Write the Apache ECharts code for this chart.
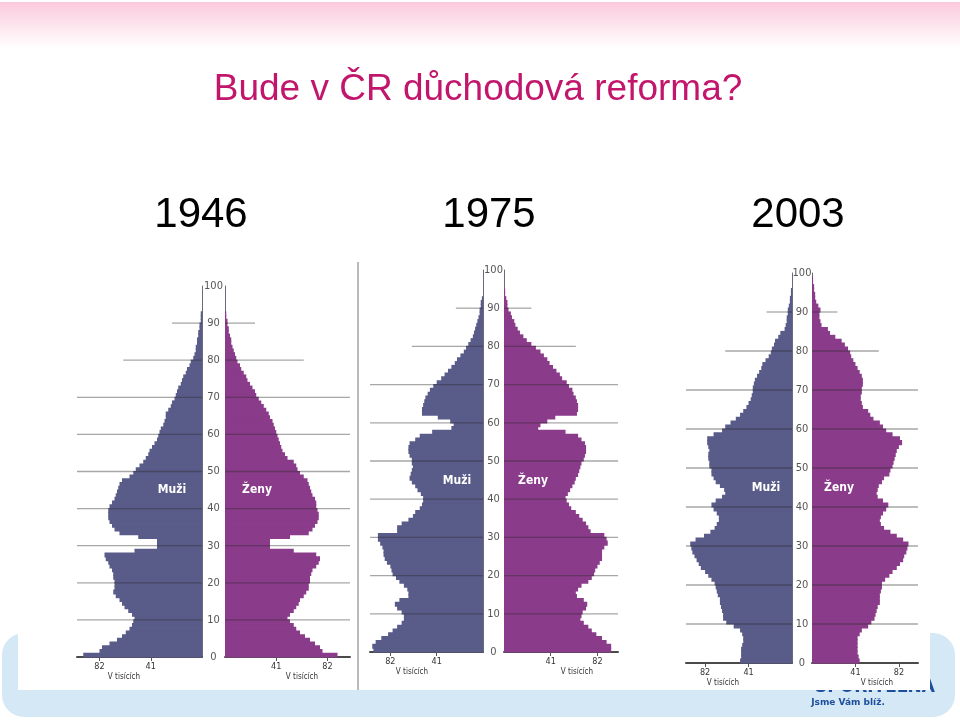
<!DOCTYPE html>
<html><head><meta charset="utf-8">
<script src="https://cdn.jsdelivr.net/npm/echarts@6/dist/echarts.min.js"></script>
<style>html,body{margin:0;padding:0;background:#fff}#c{width:960px;height:720px}</style>
</head><body><div id="c"></div>
<script>
// ---- DATA (thousands of people by single year of age, index = age) ----
const years = ['1946', '1975', '2003'];
const sexLabels = ['Muži', 'Ženy'];
const unitLabel = 'V tisících';
const titleText = 'Bude v ČR důchodová reforma?';

const male1946 = [95,82,80,74,68,64,61,58,56,55,54,56,59,62,64,66,69,71,70,70,70,71,71,72,74,75,77,78,54,36,36,36,51,66,70,72,74,75,75,75,74,72,70,69,68,67,66,64,58,55,53,50,47,45,43,42,40,38,36,35,34,33,31,30,29,29,27,25,24,22,21,20,19,17,16,15,13,12,10,9,7,6,5,5,4,4,3,3,2,2,1,1,1];
const female1946 = [90,78,76,72,68,64,60,57,55,52,50,52,55,57,59,60,63,65,67,67,68,68,69,70,73,75,76,73,55,36,36,36,52,67,70,72,74,75,75,74,73,73,72,70,69,68,67,66,63,60,58,57,55,50,48,46,45,44,43,42,41,40,39,38,36,35,33,31,29,27,25,24,22,20,18,17,15,13,12,10,9,8,7,6,5,5,4,3,3,2,2,1,1];
const male1975 = [97,98,95,90,84,80,76,72,70,70,72,76,78,74,66,66,67,70,74,77,80,81,82,85,87,88,88,89,91,93,93,76,76,72,66,62,60,56,54,53,53,55,58,60,63,65,64,63,62,63,63,65,66,66,65,60,56,45,28,26,29,40,54,54,53,52,51,49,47,44,41,37,34,31,28,25,23,20,17,15,13,11,9,8,7,6,5,4,3,3,2,2,1];
const female1975 = [94,94,90,86,81,77,74,70,67,68,69,72,73,70,64,63,65,68,74,77,79,80,82,84,86,86,86,88,91,90,88,76,74,72,69,66,63,59,57,55,54,56,58,60,62,63,65,66,67,68,70,71,72,72,71,68,65,54,30,32,38,45,64,65,65,64,63,61,60,57,55,51,49,46,43,40,38,35,32,28,24,20,17,14,12,10,9,7,6,4,3,3,2,1,1];
const male2003 = [49,48,48,48,47,46,46,47,49,55,62,65,65,66,67,68,68,70,71,72,73,76,79,82,86,88,90,92,94,95,96,91,83,77,73,71,69,69,71,74,76,72,66,63,64,68,72,74,76,76,78,78,79,79,78,79,80,80,74,66,63,58,53,49,46,43,41,39,38,37,37,36,35,33,31,29,28,25,22,20,19,17,16,13,11,7,6,5,5,4,4,3,2,2,1,1];
const female2003 = [45,44,43,43,43,43,43,45,47,53,56,59,60,61,62,64,64,64,65,66,66,69,73,76,80,83,86,87,89,90,91,86,80,74,68,65,64,65,67,70,72,67,62,61,62,63,66,68,73,74,76,77,78,79,80,82,85,83,76,70,67,64,58,55,53,48,47,46,46,47,47,48,48,47,45,43,41,39,37,36,34,31,28,22,17,15,9,8,7,7,8,6,4,3,3,2,2,1,1];

const gridAges = [10, 20, 30, 40, 50, 60, 70, 80, 90];
const gridLens = [100, 100, 100, 100, 100, 100, 100, 63, 24];
const xTickValues = [41, 82];

// ---- LAYOUT / STYLE ----
const MALE = '#595b89', FEMALE = '#8a3b8a';
const NARROW = "'Liberation Sans Narrow','DejaVu Sans Condensed',sans-serif";
const panels = [
  {m: male1946, f: female1946, top: 286, h: 371, mL: 77, mW: 125, fL: 225, fW: 125, yearX: 201, vtY: 677, vtM: 124, vtF: 302, sexY: 490, sexM: 172, sexF: 257},
  {m: male1975, f: female1975, top: 270, h: 382, mL: 370, mW: 113, fL: 504, fW: 114, yearX: 489, vtY: 672, vtM: 412, vtF: 577, sexY: 481, sexM: 457, sexF: 533},
  {m: male2003, f: female2003, top: 273, h: 390, mL: 686, mW: 106, fL: 812, fW: 106, yearX: 798, vtY: 683, vtM: 723, vtF: 877, sexY: 488, sexM: 766, sexF: 839}
];

const grids = [], xAxes = [], yAxes = [], series = [], texts = [];

function barRender(color) {
  return function (params, api) {
    const age = api.value(0), v = api.value(1);
    const p0 = api.coord([0, age]);
    const p1 = api.coord([v, age + 1]);
    // slight vertical overlap so neighbouring age bars join without seams
    return {
      type: 'rect',
      shape: {x: Math.min(p0[0], p1[0]), y: p1[1] - 0.6, width: Math.abs(p1[0] - p0[0]), height: p0[1] - p1[1] + 1.2},
      style: {fill: color}
    };
  };
}
function lineRender(params, api) {
  const age = api.value(0), len = api.value(1);
  const p0 = api.coord([0, age]);
  const p1 = api.coord([len, age]);
  return {type: 'line', shape: {x1: p0[0], y1: p0[1], x2: p1[0], y2: p1[1]},
    style: {stroke: 'rgba(45,45,45,0.42)', lineWidth: 1.3}};
}

panels.forEach((p, i) => {
  [['m', p.mL, p.mW], ['f', p.fL, p.fW]].forEach(([sex, left, width]) => {
    const gi = grids.length;
    const isM = sex === 'm';
    grids.push({left: left, top: p.top, width: width, height: p.h});
    xAxes.push({
      gridIndex: gi, type: 'value', min: 0, max: 100, inverse: isM,
      axisLine: {show: true, lineStyle: {color: '#4a4a4a', width: 2}},
      axisTick: {show: true, customValues: xTickValues, length: 4, lineStyle: {color: '#555'}},
      axisLabel: {show: true, customValues: xTickValues, margin: 5, fontSize: 9, color: '#333', fontFamily: NARROW},
      splitLine: {show: false}
    });
    yAxes.push({
      gridIndex: gi, type: 'value', min: 0, max: 100, interval: 10,
      position: isM ? 'right' : 'left',
      axisLine: {show: true, onZero: false, lineStyle: {color: '#6a6a7a', width: 1}},
      axisTick: {show: false},
      axisLabel: isM ? {show: false} : {show: true, align: 'center', margin: (p.fL - p.mL - p.mW) / 2,
        fontSize: 11, color: '#555', fontFamily: NARROW},
      splitLine: {show: false}
    });
    const vals = isM ? p.m : p.f;
    series.push({
      type: 'custom', xAxisIndex: gi, yAxisIndex: gi, z: 2, silent: true, clip: false,
      renderItem: barRender(isM ? MALE : FEMALE),
      data: vals.map((v, a) => [a, v])
    });
    series.push({
      type: 'custom', xAxisIndex: gi, yAxisIndex: gi, z: 3, silent: true,
      renderItem: lineRender,
      data: gridAges.map((a, j) => [a, gridLens[j]])
    });
  });
  texts.push({type: 'text', x: p.yearX, y: 215, z: 50,
    style: {text: years[i], fill: '#000', font: "42px 'Liberation Sans', Arial, sans-serif", align: 'center', verticalAlign: 'middle'}});
  texts.push({type: 'text', x: p.sexM, y: p.sexY, z: 50,
    style: {text: sexLabels[0], fill: '#fff', font: "bold 12px " + NARROW, align: 'center', verticalAlign: 'middle'}});
  texts.push({type: 'text', x: p.sexF, y: p.sexY, z: 50,
    style: {text: sexLabels[1], fill: '#fff', font: "bold 12px " + NARROW, align: 'center', verticalAlign: 'middle'}});
  texts.push({type: 'text', x: p.vtM, y: p.vtY, z: 50,
    style: {text: unitLabel, fill: '#333', font: "8px " + NARROW, align: 'center', verticalAlign: 'middle'}});
  texts.push({type: 'text', x: p.vtF, y: p.vtY, z: 50,
    style: {text: unitLabel, fill: '#333', font: "8px " + NARROW, align: 'center', verticalAlign: 'middle'}});
});

const background = [
  {type: 'rect', z: -100, shape: {x: 0, y: 2, width: 960, height: 46},
    style: {fill: {type: 'linear', x: 0, y: 0, x2: 0, y2: 1, colorStops: [{offset: 0, color: '#fbc9dc'}, {offset: 1, color: '#ffffff'}]}}},
  {type: 'rect', z: -100, shape: {x: 2, y: 633, width: 953, height: 84, r: 22}, style: {fill: '#d5e8f6'}},
  {type: 'text', x: 815, y: 696, z: -100,
    style: {text: 'SPOŘITELNA', fill: '#1d4f9c', font: "bold 17px 'DejaVu Sans', sans-serif", align: 'left', verticalAlign: 'bottom'}},
  {type: 'rect', z: -99, shape: {x: 18, y: 262, width: 912, height: 428}, style: {fill: '#ffffff'}},
  {type: 'line', z: -98, shape: {x1: 358, y1: 262, x2: 358, y2: 690}, style: {stroke: '#8a8a8a', lineWidth: 1.2}},
  {type: 'text', x: 478, y: 90, z: 50,
    style: {text: titleText, fill: '#c2156c', font: "37px 'Liberation Sans', Arial, sans-serif", align: 'center', verticalAlign: 'middle'}},
  {type: 'text', x: 848, y: 703, z: 50,
    style: {text: 'Jsme Vám blíž.', fill: '#1d4f9c', font: "bold 9px 'DejaVu Sans', sans-serif", align: 'center', verticalAlign: 'middle'}}
];

const chart = echarts.init(document.getElementById('c'), null, {renderer: 'canvas'});
chart.setOption({
  animation: false,
  backgroundColor: '#ffffff',
  grid: grids, xAxis: xAxes, yAxis: yAxes, series: series,
  graphic: {elements: background.concat(texts)}
});
</script></body></html>
